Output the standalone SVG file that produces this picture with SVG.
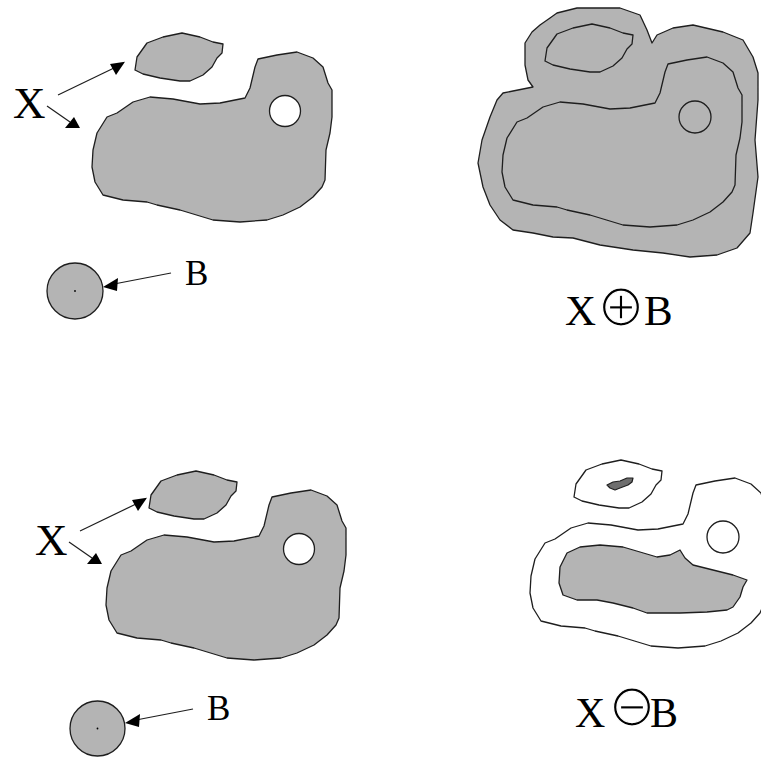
<svg xmlns="http://www.w3.org/2000/svg" xmlns:xlink="http://www.w3.org/1999/xlink" width="761" height="757" viewBox="0 0 761 757">
<style>
.bg{fill:#ffffff}
.shape{fill:#b4b4b4;stroke:#1e1e1e;stroke-width:1.3;stroke-linejoin:round}
.outline{fill:none;stroke:#1e1e1e;stroke-width:1.3;stroke-linejoin:round}
.hole{fill:#ffffff;stroke:#1e1e1e;stroke-width:1.3}
.white{fill:#ffffff;stroke:#1e1e1e;stroke-width:1.3;stroke-linejoin:round}
.dark{fill:#6e6e6e;stroke:#1e1e1e;stroke-width:1.2;stroke-linejoin:round}
.line{stroke:#1e1e1e;stroke-width:1.2;fill:none}
.head{fill:#000000}
.lbl{font-family:"Liberation Serif","Times New Roman",serif;fill:#000000}
.op{font-family:"Noto Sans CJK JP","DejaVu Sans",sans-serif;font-size:50px;stroke:#ffffff;stroke-width:1.2;letter-spacing:-9px}
</style>
<defs>
<path id="S" d="M135,70 L137,57 L147,43 L163,37 L182,33 L200,37 L213,42 L223,44 L222,53 L217,58 L212,67 L203,75 L190,81 L180,81 L160,78 L143,74 Z"/>
<path id="Bg" d="M258,59 L277,55 L297,52 L313,58 L323,67 L328,83 L332,90 L332,117 L330,133 L326,150 L325,180 L322,187 L313,197 L300,207 L283,215 L267,220 L240,222 L213,220 L180,210 L157,205 L147,202 L123,200 L103,195 L95,182 L92,167 L93,150 L97,133 L107,117 L117,113 L133,102 L150,97 L173,99 L200,104 L220,103 L245,98 L250,88 L255,67 Z"/>
</defs>
<rect class="bg" x="0" y="0" width="761" height="757"/>

<g id="set-x-top">
<use xlink:href="#S" class="shape"/>
<use xlink:href="#Bg" class="shape"/>
<circle class="hole" cx="285" cy="111" r="15.5"/>
</g>
<g id="element-b-top">
<circle class="shape" cx="75" cy="291" r="28"/>
<circle cx="75" cy="291" r="0.9" fill="#000"/>
</g>
<g id="labels-top" class="lbl">
<text x="13" y="118" font-size="45">X</text>
<text x="185" y="285" font-size="35">B</text>
</g>
<g id="connectors-top">
<line class="line" x1="58" y1="95" x2="114" y2="68"/>
<polygon class="head" points="110,64 125,61.7 116,75"/>
<line class="line" x1="47" y1="106" x2="70" y2="122"/>
<polygon class="head" points="65,128 80,128 74,117"/>
<line class="line" x1="171" y1="273" x2="114" y2="284"/>
<polygon class="head" points="103,287 118,278 117,291"/>
</g>

<g id="dilation">
<path class="shape" d="M557,13 L577,8 L620,8 L640,15 L647,30 L652,43 L657,35 L673,28 L693,25 L723,32 L743,40 L753,57 L758,73 L758,100 L755,140 L758,177 L753,213 L750,233 L737,248 L717,255 L690,257 L663,253 L633,250 L600,245 L573,238 L553,237 L533,233 L513,230 L500,220 L490,205 L483,187 L478,163 L482,140 L490,117 L497,100 L503,93 L513,91 L533,87 L528,80 L525,65 L525,43 L532,32 L540,25 L550,18 Z"/>
<use xlink:href="#S" class="outline" transform="translate(410,-9)"/>
<use xlink:href="#Bg" class="outline" transform="translate(410,5)"/>
<circle class="outline" cx="695" cy="117" r="16"/>
</g>
<g id="label-dilation" class="lbl">
<text y="325" font-size="43"><tspan x="565">X</tspan><tspan class="op" x="596" y="326">⊕</tspan><tspan x="644" y="325">B</tspan></text>
</g>

<g id="set-x-bottom" transform="translate(14,438)">
<use xlink:href="#S" class="shape"/>
<use xlink:href="#Bg" class="shape"/>
<circle class="hole" cx="285" cy="111" r="15.5"/>
</g>
<g id="element-b-bottom">
<circle class="shape" cx="97.5" cy="728.5" r="27.5"/>
<circle cx="97.5" cy="728.5" r="0.9" fill="#000"/>
</g>
<g id="labels-bottom" class="lbl">
<text x="35" y="555" font-size="45">X</text>
<text x="207" y="720" font-size="35">B</text>
</g>
<g id="connectors-bottom" transform="translate(22,436)">
<line class="line" x1="58" y1="95" x2="114" y2="68"/>
<polygon class="head" points="110,64 125,61.7 116,75"/>
<line class="line" x1="47" y1="106" x2="70" y2="122"/>
<polygon class="head" points="65,128 80,128 74,117"/>
<line class="line" x1="171" y1="273" x2="114" y2="284"/>
<polygon class="head" points="103,287 118,278 117,291"/>
</g>

<g id="erosion">
<use xlink:href="#S" class="white" transform="translate(439,427)"/>
<use xlink:href="#Bg" class="white" transform="translate(438,426)"/>
<circle class="hole" cx="723" cy="537" r="16"/>
<path class="dark" d="M607,485 L613,482 L620,481 L627,478 L633,478 L632,482 L628,485 L620,488 L615,490 L610,488 Z"/>
<path class="shape" d="M560,567 L567,553 L580,547 L600,545 L623,547 L640,552 L657,557 L670,555 L680,550 L685,558 L693,565 L713,570 L733,575 L747,580 L743,587 L740,597 L733,607 L727,610 L707,612 L680,613 L647,613 L633,608 L613,603 L597,600 L577,600 L563,595 L559,583 Z"/>
</g>
<g id="label-erosion" class="lbl">
<text y="727" font-size="42"><tspan x="575">X</tspan><tspan class="op" x="607" y="726">⊖</tspan><tspan x="650" y="727">B</tspan></text>
</g>
</svg>
